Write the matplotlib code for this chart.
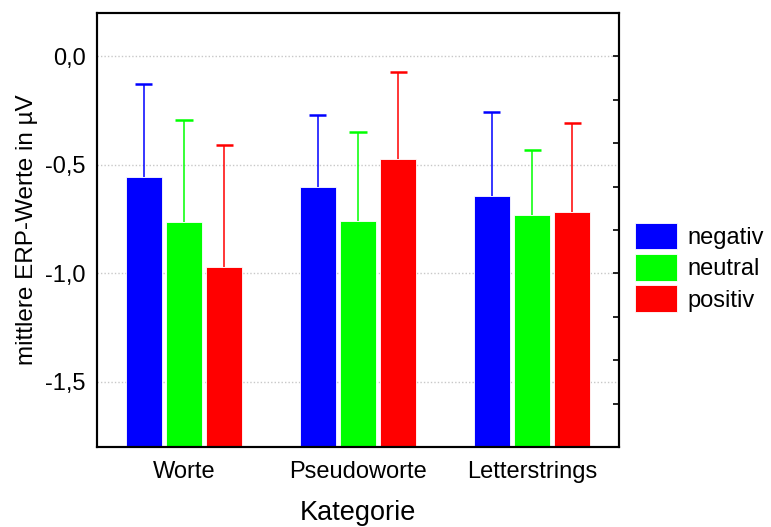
import matplotlib
matplotlib.use("Agg")
import matplotlib.pyplot as plt
import numpy as np
from matplotlib.ticker import MultipleLocator, FuncFormatter

# ── data ────────────────────────────────────────────────────────────────────
categories = ["Worte", "Pseudoworte", "Letterstrings"]
series = ["negativ", "neutral", "positiv"]
colors = ["#0000ff", "#00ff00", "#ff0000"]

means = {
    "negativ": [-0.555, -0.601, -0.644],
    "neutral": [-0.762, -0.760, -0.733],
    "positiv": [-0.969, -0.471, -0.719],
}
upper = {  # top of error bar
    "negativ": [-0.129, -0.268, -0.256],
    "neutral": [-0.294, -0.350, -0.431],
    "positiv": [-0.409, -0.074, -0.308],
}

YMIN, YMAX = -1.8, 0.2

plt.rcParams["font.family"] = ["Liberation Sans", "DejaVu Sans"]

fig = plt.figure(figsize=(7.71, 5.27), dpi=100)
ax = fig.add_axes([0.1258, 0.1518, 0.8029 - 0.1258, 0.9753 - 0.1518])

x = np.arange(len(categories))
width, step, cap = 0.209, 0.231, 0.049
for k, (name, col) in enumerate(zip(series, colors)):
    m = np.array(means[name])
    up = np.array(upper[name])
    xs = x + (k - 1) * step
    ax.bar(xs, m - YMIN, width, bottom=YMIN, color=col, edgecolor="white",
           linewidth=0.6, label=name, zorder=2)
    # upper-only error bars
    ax.vlines(xs, m, up, color=col, linewidth=1.1, zorder=3)
    ax.hlines(up, xs - cap, xs + cap, color=col, linewidth=1.8, zorder=3)

ax.set_xlim(-0.5, 2.5)
ax.set_ylim(YMIN, YMAX)
ax.set_xticks(x)
ax.set_xticklabels(categories, fontsize=17)
ax.yaxis.set_major_locator(MultipleLocator(0.5))
ax.yaxis.set_major_formatter(FuncFormatter(lambda v, p: f"{v:.1f}".replace(".", ",")))
ax.tick_params(axis="y", labelsize=17, length=0, pad=8)
ax.tick_params(axis="x", direction="in", length=3, width=1.2, pad=10)
ax.grid(axis="y", linestyle=(0, (1, 1.5)), color="#c8c8c8", linewidth=1, zorder=0)
ax.set_axisbelow(True)

# inward ticks on the right spine
ax2 = ax.twinx()
ax2.set_ylim(YMIN, YMAX)
ax2.yaxis.set_major_locator(MultipleLocator(0.2))
ax2.tick_params(axis="y", direction="in", length=4, width=1.2, labelright=False)

for a in (ax, ax2):
    for s in a.spines.values():
        s.set_linewidth(1.5)

ax.set_xlabel("Kategorie", fontsize=19.5, labelpad=12)
ax.set_ylabel("mittlere ERP-Werte in µV", fontsize=17.5, labelpad=5)

h, l = ax.get_legend_handles_labels()
fig.legend(h, l, loc="upper left", bbox_to_anchor=(0.823, 0.577), frameon=False,
           fontsize=17, handlelength=1.78, handleheight=1.35, labelspacing=0.2,
           handletextpad=0.45, borderpad=0, borderaxespad=0)

fig.savefig("out.png", dpi=100, facecolor="white")
